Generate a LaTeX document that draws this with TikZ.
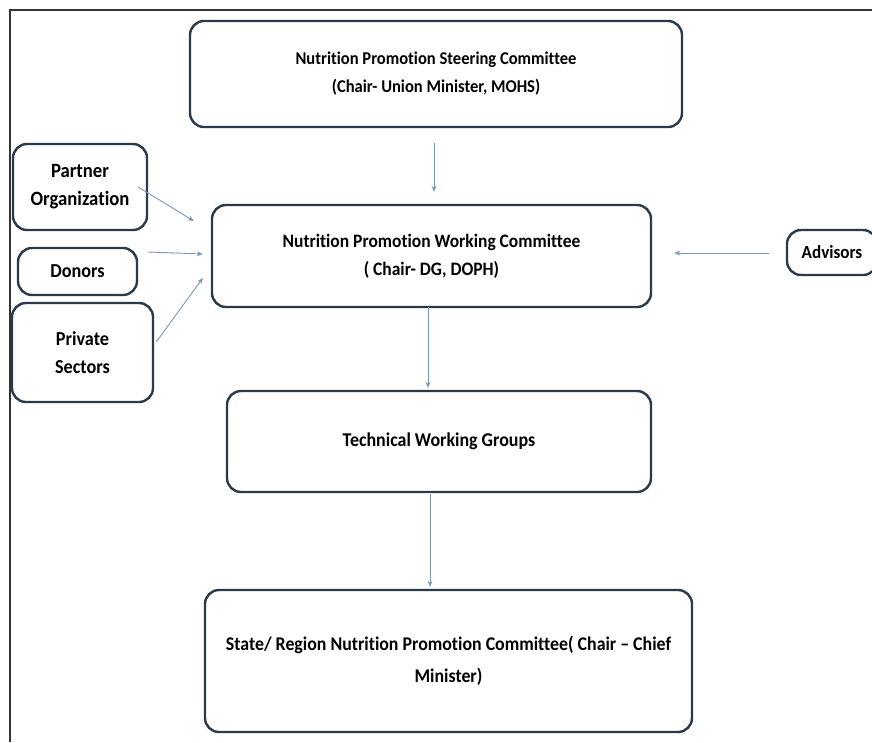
\documentclass[tikz,border=0pt]{standalone}
\usepackage{fontspec}
\setmainfont{Carlito}[Ligatures=NoCommon, FakeStretch=0.92]
\usetikzlibrary{arrows.meta}
\definecolor{boxline}{HTML}{2B3A4A}
\definecolor{arrowline}{HTML}{7B97B8}
\definecolor{frameline}{HTML}{333333}
\tikzset{
  orgbox/.style 2 args={draw=boxline, line width=2.4pt, rounded corners=14pt,
    inner sep=0pt, align=center, text=black,
    font=\fontsize{#1}{#2}\selectfont\bfseries},
  orgbox/.default={18}{28},
  flow/.style={draw=arrowline, line width=0.9pt,
    -{Stealth[length=6pt,width=5pt]}},
  frame/.style={draw=frameline, line width=2pt}
}
\begin{document}
\begin{tikzpicture}[x=1pt,y=-1pt]
  \useasboundingbox (0,0) rectangle (872,742);
  \clip (0,0) rectangle (872,742);
  \fill[white] (0,0) rectangle (872,742);

  % outer frame: left and top edges only
  \draw[frame] (10,742) -- (10,10) -- (872,10);

  % committee boxes
  \node[orgbox={18}{28}, minimum width=492pt, minimum height=106pt] (steer) at (436,74)
    {Nutrition Promotion Steering Committee\\(Chair- Union Minister, MOHS)};
  \node[orgbox={19}{28}, minimum width=439pt, minimum height=102pt] (work) at (431.5,256)
    {Nutrition Promotion Working Committee\\( Chair- DG, DOPH)};
  \node[orgbox={19.5}{28}, minimum width=424pt, minimum height=101pt] (tech) at (439,441.5)
    {Technical Working Groups};
  \node[orgbox={19.4}{32}, minimum width=487pt, minimum height=142pt] (state) at (448.5,661)
    {State/ Region Nutrition Promotion Committee( Chair -- Chief\\Minister)};

  % supporting partners
  \node[orgbox={20.3}{28}, minimum width=134pt, minimum height=86pt] (partner) at (80,187)
    {Partner\\Organization};
  \node[orgbox={19.8}{28}, minimum width=119pt, minimum height=47pt] (donors) at (77.5,271.5)
    {Donors};
  \node[orgbox={19.8}{28}, minimum width=141pt, minimum height=99pt] (private) at (82.5,352.5)
    {Private\\Sectors};
  \node[orgbox={18.6}{28}, minimum width=90pt, minimum height=45pt] (advisors) at (832,252.5)
    {Advisors};

  % vertical flow
  \draw[flow] ([shift={(-2,15)}]steer.south) -- ([shift={(2.5,-12)}]work.north);
  \draw[flow] ([shift={(-3.5,-1)}]work.south) -- ([shift={(-11,-2)}]tech.north);
  \draw[flow] ([shift={(-9,1)}]tech.south) -- ([shift={(-18.5,-2)}]state.north);

  % inputs to the working committee
  \draw[flow] ([shift={(-10,0)}]partner.east) -- ([shift={(-17,-35)}]work.west);
  \draw[flow] ([shift={(10,-19.5)}]donors.east) -- ([shift={(-8,-2)}]work.west);
  \draw[flow] ([shift={(2,-10.5)}]private.east) -- ([shift={(-8,22)}]work.west);
  \draw[flow] ([shift={(-17,0.5)}]advisors.west) -- ([shift={(22,-3)}]work.east);
\end{tikzpicture}
\end{document}
